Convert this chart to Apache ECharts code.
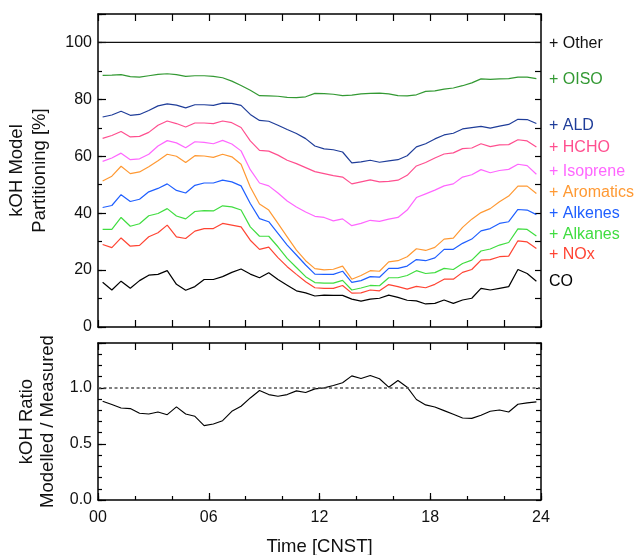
<!DOCTYPE html>
<html><head><meta charset="utf-8">
<script src="https://cdn.jsdelivr.net/npm/echarts@6/dist/echarts.min.js"></script>
<style>html,body{margin:0;padding:0;background:#fff}#c{width:636px;height:555px}</style>
</head><body><div id="c"></div>
<script>
// ---------- data ----------
const hours = [0.25,0.75,1.25,1.75,2.25,2.75,3.25,3.75,4.25,4.75,5.25,5.75,6.25,6.75,7.25,7.75,
  8.25,8.75,9.25,9.75,10.25,10.75,11.25,11.75,12.25,12.75,13.25,13.75,14.25,14.75,15.25,15.75,
  16.25,16.75,17.25,17.75,18.25,18.75,19.25,19.75,20.25,20.75,21.25,21.75,22.25,22.75,23.25,23.75];
const otherHours = [0, 24];
const other = [100, 100];
const oiso = [88.4,88.5,88.7,88.0,87.8,88.3,88.8,89.0,88.7,88.1,88.3,88.3,88.1,87.6,86.4,84.9,83.2,81.3,81.2,81.1,80.7,80.6,80.9,82.1,82.0,
  81.8,81.3,81.5,81.9,82.1,82.2,81.9,81.3,81.2,81.6,82.8,83.0,83.6,84.0,84.8,85.8,87.2,87.0,87.2,87.3,87.8,87.8,87.3];
const ald = [73.8,74.5,75.8,74.4,74.7,76.1,77.7,78.4,78.0,77.0,78.1,78.1,77.9,78.7,78.6,77.9,74.7,72.6,72.3,70.9,69.4,68.0,66.2,63.6,62.6,
  62.3,61.5,57.7,58.0,58.6,57.9,58.4,58.8,60.2,63.3,64.4,66.1,67.5,68.1,69.6,70.1,70.5,69.9,70.6,71.2,73.0,72.9,71.5];
const hcho = [66.3,67.3,68.7,66.8,67.0,68.4,70.9,72.4,71.5,70.3,71.7,71.7,71.5,72.4,71.8,70.1,65.4,62.1,61.8,60.4,58.6,57.4,56.0,54.6,53.9,
  53.2,52.7,50.3,51.0,51.7,51.0,51.2,51.6,53.3,56.6,57.8,59.4,60.8,61.2,62.7,62.9,64.4,63.4,64.0,64.1,65.8,65.4,63.3];
const isoprene = [58.2,59.4,61.1,58.8,59.1,60.7,63.6,65.5,64.7,63.0,65.1,64.9,64.4,65.6,64.3,61.9,55.3,50.6,49.6,47.1,44.3,42.2,40.4,38.9,38.5,
  37.3,38.0,35.6,36.4,37.5,37.1,37.9,38.5,41.1,45.5,46.8,48.1,49.6,50.3,52.7,53.5,55.3,54.2,55.0,55.4,57.2,56.7,53.7];
const aromatics = [51.3,53.0,56.5,53.9,54.5,56.3,58.4,60.7,60.0,57.8,60.2,60.1,59.6,60.7,59.8,57.2,49.2,43.2,41.1,36.4,31.7,27.0,23.3,20.5,20.1,
  20.3,21.4,16.8,18.1,19.8,19.6,22.9,23.3,24.7,27.5,26.9,28.0,30.9,31.2,35.0,37.9,40.2,41.6,44.0,46.0,49.5,49.5,46.9];
const alkenes = [42.0,42.7,46.5,44.1,44.9,47.5,48.7,50.3,48.0,47.1,49.8,50.6,50.6,51.6,51.0,49.6,43.4,38.1,37.0,32.9,28.8,25.3,21.8,18.6,18.5,
  18.5,19.6,15.7,16.3,17.7,17.5,20.6,20.6,21.4,23.7,23.3,24.3,27.3,27.3,29.4,30.9,33.8,34.6,36.4,37.0,41.3,41.1,39.5];
const alkanes = [34.3,34.3,38.5,35.4,36.3,39.1,39.9,41.6,39.0,38.0,40.6,40.9,40.8,42.6,42.2,41.1,35.2,31.9,31.9,28.2,24.1,20.9,17.7,15.6,15.4,
  15.4,16.4,13.0,13.7,14.6,14.5,17.3,17.3,18.1,19.8,18.8,19.1,20.6,20.2,22.3,23.5,26.7,27.4,28.8,29.7,34.5,34.3,32.0];
const nox = [29.0,27.9,31.3,28.4,28.7,31.7,33.1,35.8,31.7,31.1,33.7,34.6,34.6,36.4,35.8,35.2,30.5,27.3,28.1,24.4,21.2,18.5,15.9,13.8,13.6,
  13.6,14.6,11.9,12.0,13.0,12.7,14.9,14.2,13.3,14.3,13.8,15.0,16.8,16.8,19.2,20.2,23.5,23.7,24.7,24.9,30.3,29.9,27.6];
const co = [15.7,13.0,16.1,13.6,16.3,18.2,18.5,19.8,15.0,12.9,14.2,16.7,16.7,17.7,19.2,20.4,18.6,17.3,19.1,16.7,14.7,12.7,12.0,10.9,11.2,
  11.1,11.1,9.8,9.1,9.8,10.1,11.2,10.4,9.4,9.2,8.1,8.3,9.5,8.3,9.5,10.1,13.6,13.0,13.6,14.2,20.2,18.8,16.1];
const ratio = [0.881,0.851,0.821,0.815,0.773,0.767,0.785,0.761,0.830,0.767,0.746,0.663,0.678,0.707,0.791,0.836,0.910,0.976,0.940,0.925,0.940,0.973,0.958,0.991,
  1.000,1.021,1.045,1.107,1.084,1.110,1.081,1.006,1.066,1.006,0.896,0.848,0.830,0.797,0.764,0.731,0.728,0.755,0.791,0.803,0.785,0.854,0.866,0.875];
const ratioRef = 1.0;
const xTickLabels = {0:'00', 6:'06', 12:'12', 18:'18', 24:'24'};
const topTickLabels = [0, 20, 40, 60, 80, 100];
const bottomTickLabels = ['0.0', '0.5', '1.0'];

const seriesNames = ['Other','OISO','ALD','HCHO','Isoprene','Aromatics','Alkenes','Alkanes','NOx','CO'];
const seriesLabels = ['+ Other','+ OISO','+ ALD','+ HCHO','+ Isoprene','+ Aromatics','+ Alkenes','+ Alkanes','+ NOx','CO'];
const seriesData = [other, oiso, ald, hcho, isoprene, aromatics, alkenes, alkanes, nox, co];

// ---------- style ----------
const colors = ['#111111','#339933','#1f3d99','#ff4f8f','#ff66ff','#ff9933','#1f5fff','#40dd40','#ff4433','#000000'];
const labelY = [43.5, 79.5, 126, 148, 171.5, 193, 214, 234.5, 255, 282];
const FONT = "'Liberation Sans', Arial, Helvetica, sans-serif";

const chart = echarts.init(document.getElementById('c'), null, {renderer: 'canvas'});

const frameLine = {show: true, onZero: false, lineStyle: {color: '#000', width: 1.5}};
function xAx(grid, pos, interval, tickLen, showLabels, name, showLine) {
  return {
    type: 'value', gridIndex: grid, position: pos, min: 0, max: 24, interval: interval,
    axisLine: showLine === false ? {show: false, onZero: false} : frameLine,
    axisTick: {show: true, inside: true, length: tickLen, lineStyle: {color: '#000', width: 1.2}},
    axisLabel: showLabels ? {
      show: true, margin: 10, fontSize: 16, color: '#111', fontFamily: FONT,
      formatter: v => (xTickLabels[v] !== undefined ? xTickLabels[v] : '')
    } : {show: false},
    splitLine: {show: false},
    name: name || '', nameLocation: 'middle', nameGap: 37,
    nameTextStyle: {fontSize: 18.5, color: '#111', fontFamily: FONT}
  };
}
function yAx(grid, pos, min, max, interval, tickLen, opts) {
  return Object.assign({
    type: 'value', gridIndex: grid, position: pos, min: min, max: max, interval: interval,
    axisLine: frameLine,
    axisTick: {show: true, inside: true, length: tickLen, lineStyle: {color: '#000', width: 1.2}},
    axisLabel: {show: false},
    splitLine: {show: false}
  }, opts || {});
}

const series = [];
seriesNames.forEach((n, i) => {
  const xs = i === 0 ? otherHours : hours;
  series.push({
    name: n, type: 'line', xAxisIndex: 0, yAxisIndex: 0,
    data: seriesData[i].map((v, j) => [xs[j], v]),
    symbol: 'none', silent: true,
    lineStyle: {color: colors[i], width: 1.2},
    z: 3
  });
});
series.push({
  name: 'Ratio', type: 'line', xAxisIndex: 2, yAxisIndex: 3,
  data: ratio.map((v, j) => [hours[j], v]),
  symbol: 'none', silent: true,
  lineStyle: {color: '#000', width: 1.1},
  markLine: {
    silent: true, symbol: 'none', label: {show: false},
    lineStyle: {color: '#555', width: 1.5, type: [3, 2.5]},
    data: [{yAxis: ratioRef}]
  },
  z: 3
});

const graphics = seriesLabels.map((t, i) => ({
  type: 'text', x: 549, y: labelY[i], silent: true,
  style: {text: t, fill: colors[i], fontSize: 16, fontFamily: FONT, align: 'left', verticalAlign: 'middle'}
}));

chart.setOption({
  animation: false,
  backgroundColor: '#fff',
  grid: [
    {left: 98, right: 95, top: 14, height: 313, outerBoundsMode: 'none', containLabel: false},
    {left: 98, right: 95, top: 343, height: 157, outerBoundsMode: 'none', containLabel: false}
  ],
  xAxis: [
    xAx(0, 'bottom', 2, 7, false),
    xAx(0, 'top', 2, 7, false),
    xAx(1, 'bottom', 6, 7, true, 'Time [CNST]'),
    xAx(1, 'top', 2, 7, false),
    xAx(1, 'bottom', 2, 4, false, '', false)
  ],
  yAxis: [
    yAx(0, 'left', 0, 110, 20, 8, {
      axisLabel: {show: true, margin: 6, fontSize: 16, color: '#111', fontFamily: FONT,
        formatter: v => (topTickLabels.indexOf(v) >= 0 ? String(v) : '')},
      name: 'kOH Model\nPartitioning [%]', nameLocation: 'middle', nameRotate: 90, nameGap: 47,
      nameTextStyle: {fontSize: 18.5, color: '#111', fontFamily: FONT, lineHeight: 23}
    }),
    yAx(0, 'left', 0, 110, 10, 4, {axisLine: {show: false}}),
    yAx(0, 'right', 0, 110, 10, 6),
    yAx(1, 'left', 0, 1.4, 0.5, 8, {
      axisLabel: {show: true, margin: 6, fontSize: 16, color: '#111', fontFamily: FONT,
        formatter: v => { const s = v.toFixed(1); return bottomTickLabels.indexOf(s) >= 0 && Math.abs(v * 2 - Math.round(v * 2)) < 1e-6 ? s : ''; }},
      name: 'kOH Ratio\nModelled / Measured', nameLocation: 'middle', nameRotate: 90, nameGap: 39,
      nameTextStyle: {fontSize: 18.5, color: '#111', fontFamily: FONT, lineHeight: 21}
    }),
    yAx(1, 'left', 0, 1.4, 0.1, 4, {axisLine: {show: false}}),
    yAx(1, 'right', 0, 1.4, 0.1, 5)
  ],
  series: series,
  graphic: graphics
});
</script>
</body></html>
